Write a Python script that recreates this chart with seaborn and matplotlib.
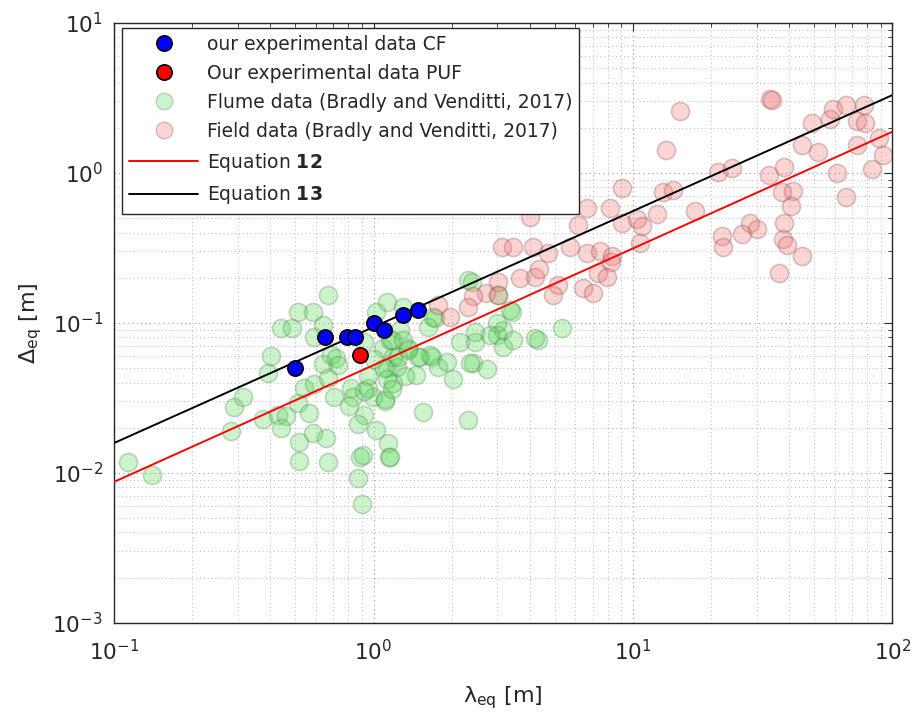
import numpy as np
import pandas as pd
import matplotlib
matplotlib.use("Agg")
import matplotlib.pyplot as plt
from matplotlib.lines import Line2D
from matplotlib.ticker import LogLocator, NullFormatter
import seaborn as sns

# ------------------------------------------------------------
# data
# ------------------------------------------------------------

cf_x = [0.50, 0.65, 0.79, 0.85, 1.00, 1.10, 1.30, 1.48]
cf_y = [0.050, 0.081, 0.081, 0.081, 0.100, 0.090, 0.113, 0.122]

puf_x = [0.89]
puf_y = [0.061]

flume_x = [0.113, 0.140, 0.282, 0.290, 0.313, 0.374, 0.391, 0.402, 0.439, 0.484,
           0.510, 0.582, 0.666, 0.637, 0.588, 0.428, 0.459, 0.439, 0.510, 0.538,
           0.588, 0.562, 0.515, 0.582, 0.654, 0.515, 0.666, 0.637, 0.666, 0.684,
           0.714, 0.727, 0.702, 0.816, 0.830, 0.802, 0.916, 0.875, 0.948, 0.991,
           1.018, 1.112, 1.142, 1.152, 0.883, 0.868, 0.899, 1.132, 1.018, 0.916,
           1.083, 1.162, 1.194, 1.132, 1.237, 1.194, 1.000, 1.304, 1.731, 1.628,
           1.270, 1.183, 1.304, 1.352, 1.248, 1.517, 1.686, 1.093, 1.778, 1.926,
           1.452, 1.327, 1.132, 0.948, 0.916, 1.112, 1.183, 2.160, 2.470, 2.470,
           2.420, 2.740, 2.030, 3.000, 3.160, 3.160, 3.450, 3.000, 4.310, 3.430,
           1.557, 2.320, 1.162, 0.907, 2.320, 2.400, 3.030, 3.360, 1.702, 5.330,
           4.200, 1.656, 1.490, 1.364, 2.820, 2.360]
flume_y = [0.0118, 0.0097, 0.0190, 0.0275, 0.0320, 0.0229, 0.0460, 0.0600, 0.0930, 0.0930,
           0.1180, 0.1180, 0.1540, 0.0970, 0.0810, 0.0244, 0.0240, 0.0200, 0.0290, 0.0370,
           0.0390, 0.0250, 0.0161, 0.0185, 0.0171, 0.0120, 0.0118, 0.0530, 0.0430, 0.0610,
           0.0580, 0.0520, 0.0320, 0.0370, 0.0320, 0.0280, 0.0244, 0.0212, 0.0370, 0.0320,
           0.0194, 0.0300, 0.0158, 0.0128, 0.0128, 0.0093, 0.0062, 0.1380, 0.1180, 0.0750,
           0.0680, 0.0770, 0.0590, 0.0500, 0.0510, 0.0400, 0.0570, 0.1280, 0.1080, 0.0940,
           0.0900, 0.0770, 0.0770, 0.0680, 0.0590, 0.0590, 0.0590, 0.0500, 0.0510, 0.0550,
           0.0450, 0.0440, 0.0420, 0.0440, 0.0350, 0.0310, 0.0360, 0.0750, 0.0750, 0.0870,
           0.0540, 0.0490, 0.0420, 0.0830, 0.0900, 0.0690, 0.0770, 0.1000, 0.0770, 0.1180,
           0.0255, 0.0226, 0.0128, 0.0132, 0.1940, 0.1880, 0.1540, 0.1220, 0.1100, 0.0930,
           0.0790, 0.0610, 0.0590, 0.0660, 0.0830, 0.0540]

field_x = [4.02, 6.65, 8.16, 6.14, 9.07, 9.07, 10.36, 10.83, 12.37, 13.04,
           14.25, 17.3, 15.17, 13.39, 21.2, 24.0, 33.6, 34.3, 33.3, 38.1,
           37.4, 41.3, 40.5, 28.2, 30.0, 22.0, 22.2, 26.3, 38.1, 37.8,
           39.1, 44.7, 36.7, 44.7, 49.2, 51.5, 57.3, 58.8, 66.5, 78.0,
           73.3, 78.7, 73.3, 60.9, 66.5, 83.8, 89.1, 92.3, 3.13, 3.45,
           4.12, 4.71, 5.72, 6.65, 7.47, 8.30, 8.23, 7.33, 7.94, 10.64,
           6.42, 7.02, 5.15, 4.92, 3.68, 4.20, 4.35, 3.03, 2.72, 2.42,
           2.32, 3.03, 1.78, 1.98]
field_y = [0.51, 0.58, 0.58, 0.45, 0.79, 0.46, 0.49, 0.44, 0.53, 0.75,
           0.77, 0.56, 2.59, 1.42, 1.02, 1.08, 3.11, 3.05, 0.97, 1.10,
           0.74, 0.76, 0.60, 0.46, 0.42, 0.38, 0.32, 0.39, 0.46, 0.36,
           0.33, 0.28, 0.215, 1.54, 2.15, 1.38, 2.29, 2.67, 2.84, 2.84,
           2.22, 2.15, 1.54, 1.00, 0.69, 1.06, 1.71, 1.32, 0.32, 0.32,
           0.32, 0.29, 0.32, 0.29, 0.30, 0.28, 0.255, 0.215, 0.203, 0.34,
           0.171, 0.158, 0.179, 0.154, 0.20, 0.203, 0.23, 0.188, 0.158, 0.151,
           0.128, 0.154, 0.132, 0.110]

eq_x = [0.1, 100]
eq12_y = [0.0087, 1.88]
eq13_y = [0.0158, 3.30]

labels = ["our experimental data CF",
          "Our experimental data PUF",
          "Flume data (Bradly and Venditti, 2017)",
          "Field data (Bradly and Venditti, 2017)",
          r"Equation $\mathbf{12}$",
          r"Equation $\mathbf{13}$"]

# ------------------------------------------------------------
# style
# ------------------------------------------------------------

sns.set_style("white")
plt.rcParams["font.family"] = ["DejaVu Sans"]
plt.rcParams["mathtext.default"] = "regular"

TXT = "#262626"
GREEN = (0.35, 0.85, 0.35)
PINK = (0.95, 0.45, 0.45)

fig = plt.figure(figsize=(9.2, 7.15), dpi=100)
ax = fig.add_axes([0.124, 0.129, 0.846, 0.839])

# ------------------------------------------------------------
# scatter + equations
# ------------------------------------------------------------

sns.scatterplot(x=flume_x, y=flume_y, ax=ax, s=170, color=GREEN,
                alpha=0.3, edgecolor=(0.3, 0.5, 0.3), linewidth=1.2, zorder=2)
sns.scatterplot(x=field_x, y=field_y, ax=ax, s=170, color=PINK,
                alpha=0.3, edgecolor=(0.5, 0.3, 0.3), linewidth=1.2, zorder=2)

sns.lineplot(x=eq_x, y=eq12_y, ax=ax, color="red", linewidth=1.4, zorder=3)
sns.lineplot(x=eq_x, y=eq13_y, ax=ax, color="black", linewidth=1.4, zorder=3)

sns.scatterplot(x=cf_x, y=cf_y, ax=ax, s=120, color="#0000ff",
                edgecolor="black", linewidth=1.2, zorder=4)
sns.scatterplot(x=puf_x, y=puf_y, ax=ax, s=120, color="#ff0000",
                edgecolor="black", linewidth=1.2, zorder=4)

ax.set_xscale("log")
ax.set_yscale("log")
ax.set_xlim(0.1, 100)
ax.set_ylim(1e-3, 10)

# MATLAB-like box, ticks and dotted grid
ax.xaxis.set_major_locator(LogLocator(base=10, numticks=10))
ax.yaxis.set_major_locator(LogLocator(base=10, numticks=10))
ax.xaxis.set_minor_locator(LogLocator(base=10, subs=np.arange(2, 10), numticks=20))
ax.yaxis.set_minor_locator(LogLocator(base=10, subs=np.arange(2, 10), numticks=20))
ax.xaxis.set_minor_formatter(NullFormatter())
ax.yaxis.set_minor_formatter(NullFormatter())

ax.grid(True, which="major", linestyle=(0, (1, 3)), color="#9a9a9a", linewidth=0.8)
ax.grid(True, which="minor", linestyle=(0, (1, 3)), color="#b5b5b5", linewidth=0.7)
ax.set_axisbelow(True)

ax.tick_params(which="both", direction="in", top=True, right=True,
               colors=TXT, labelcolor=TXT)
ax.tick_params(which="major", length=6, width=0.8, labelsize=15.5)
ax.tick_params(axis="x", which="major", pad=12)
ax.tick_params(axis="y", which="major", pad=8)
ax.tick_params(which="minor", length=3, width=0.6)
for sp in ax.spines.values():
    sp.set_color(TXT)
    sp.set_linewidth(1.0)

ax.set_xlabel(r"$\lambda_{eq}$ [m]", fontsize=16, color=TXT, labelpad=14)
ax.set_ylabel(r"$\Delta_{eq}$ [m]", fontsize=16, color=TXT, labelpad=6)

# ------------------------------------------------------------
# legend
# ------------------------------------------------------------

handles = [
    Line2D([], [], marker="o", linestyle="none", markersize=11,
           markerfacecolor="#0000ff", markeredgecolor="black", markeredgewidth=1.2),
    Line2D([], [], marker="o", linestyle="none", markersize=11,
           markerfacecolor="#ff0000", markeredgecolor="black", markeredgewidth=1.2),
    Line2D([], [], marker="o", linestyle="none", markersize=12,
           markerfacecolor=GREEN + (0.3,), markeredgecolor=(0.3, 0.5, 0.3, 0.3)),
    Line2D([], [], marker="o", linestyle="none", markersize=12,
           markerfacecolor=PINK + (0.3,), markeredgecolor=(0.5, 0.3, 0.3, 0.3)),
    Line2D([], [], color="red", linewidth=1.4),
    Line2D([], [], color="black", linewidth=1.4),
]

leg = ax.legend(handles, labels, loc="upper left", bbox_to_anchor=(0.01, 0.992),
                fontsize=13.5, frameon=True, fancybox=False, framealpha=1,
                edgecolor=TXT, handlelength=3.7, handletextpad=0.45,
                labelspacing=0.53, borderpad=0.38, borderaxespad=0.0)
leg.get_frame().set_linewidth(1.0)
for t in leg.get_texts():
    t.set_color(TXT)

fig.savefig("out.png", dpi=100)
